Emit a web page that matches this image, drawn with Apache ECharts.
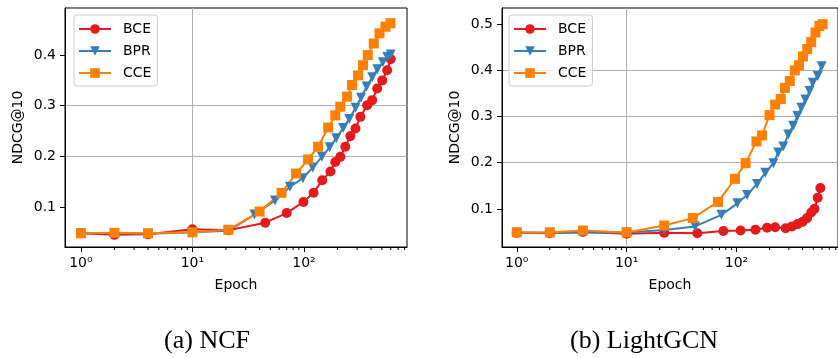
<!DOCTYPE html>
<html>
<head>
<meta charset="utf-8">
<script src="https://cdn.jsdelivr.net/npm/echarts@6/dist/echarts.min.js"></script>
<style>
  html, body { margin: 0; padding: 0; background: #fff; }
  #chart { width: 838px; height: 358px; }
</style>
</head>
<body>
<div id="chart"></div>
<script>
// (a) NCF - values read at the marker positions
var ncfBceEpoch = [1, 2, 4, 10, 21, 45, 70, 99, 122, 146, 173, 191, 212, 235, 261, 290, 321, 369, 409, 454, 504, 558, 600];
var ncfBce = [0.048, 0.045, 0.046, 0.056, 0.054, 0.069, 0.088, 0.110, 0.128, 0.153, 0.170, 0.189, 0.199, 0.219, 0.240, 0.255, 0.278, 0.301, 0.311, 0.334, 0.350, 0.370, 0.392];
var ncfBprEpoch = [1, 2, 4, 10, 21, 36, 55, 75, 98, 120, 145, 170, 195, 225, 255, 290, 325, 365, 410, 455, 510, 560, 600];
var ncfBpr = [0.048, 0.048, 0.047, 0.050, 0.053, 0.085, 0.113, 0.140, 0.157, 0.178, 0.199, 0.218, 0.236, 0.256, 0.274, 0.296, 0.316, 0.338, 0.356, 0.372, 0.386, 0.396, 0.401];
var ncfCceEpoch = [1, 2, 4, 10, 21, 40, 63, 85, 109, 134, 165, 191, 212, 244, 270, 306, 339, 374, 423, 476, 538, 597];
var ncfCce = [0.048, 0.049, 0.048, 0.050, 0.055, 0.091, 0.128, 0.166, 0.194, 0.219, 0.257, 0.281, 0.298, 0.318, 0.341, 0.360, 0.380, 0.400, 0.423, 0.443, 0.456, 0.463];

// (b) LightGCN
var lgcnBceEpoch = [1, 2, 4, 10, 22, 44, 76, 109, 149, 190, 225, 280, 320, 360, 400, 440, 480, 513, 549, 580];
var lgcnBce = [0.048, 0.047, 0.050, 0.046, 0.048, 0.047, 0.052, 0.053, 0.055, 0.059, 0.060, 0.058, 0.062, 0.067, 0.072, 0.080, 0.092, 0.100, 0.124, 0.145];
var lgcnBprEpoch = [1, 2, 4, 10, 22, 42, 73, 102, 125, 154, 183, 217, 240, 267, 296, 328, 359, 390, 424, 463, 495, 549, 596];
var lgcnBpr = [0.049, 0.048, 0.049, 0.049, 0.054, 0.062, 0.087, 0.112, 0.130, 0.154, 0.178, 0.199, 0.222, 0.235, 0.261, 0.280, 0.301, 0.319, 0.337, 0.355, 0.373, 0.388, 0.409];
var lgcnCceEpoch = [1, 2, 4, 10, 22, 40, 68, 97, 121, 152, 171, 200, 225, 253, 276, 306, 340, 371, 403, 441, 479, 524, 569, 609];
var lgcnCce = [0.049, 0.049, 0.053, 0.049, 0.064, 0.080, 0.115, 0.165, 0.199, 0.246, 0.259, 0.303, 0.326, 0.338, 0.362, 0.377, 0.400, 0.411, 0.430, 0.446, 0.461, 0.482, 0.496, 0.500];

var lossNames = ['BCE', 'BPR', 'CCE'];
var xMajorTicks = [1, 10, 100];
var xMinorTicks = [2, 3, 4, 5, 6, 7, 8, 9, 20, 30, 40, 50, 60, 70, 80, 90, 200, 300, 400, 500, 600, 700, 800];
var yTicksNcf = [0.1, 0.2, 0.3, 0.4];
var yTicksLgcn = [0.1, 0.2, 0.3, 0.4, 0.5];
var yRangeNcf = [0.021, 0.493];
var yRangeLgcn = [0.0174, 0.535];

var colors = { BCE: '#e41a1c', BPR: '#377eb8', CCE: '#ff7f00' };
var font = 'DejaVu Sans';
var sup = { '0': '\u2070', '1': '\u00b9', '2': '\u00b2', '3': '\u00b3' };

function pairs(xs, ys) {
    return xs.map(function (x, i) { return [x, ys[i]]; });
}

function logLabel(v) {
    var e = String(Math.round(Math.log10(v)));
    return '10' + e.split('').map(function (c) { return sup[c]; }).join('');
}

function mainX(grid, min, max) {
    return {
        type: 'log', logBase: 10, gridIndex: grid, min: min, max: max, position: 'bottom',
        axisLine: { show: true, onZero: false, lineStyle: { color: '#000', width: 1 } },
        axisTick: { show: true, length: 5, customValues: xMajorTicks, lineStyle: { color: '#000' } },
        axisLabel: { customValues: xMajorTicks, formatter: logLabel, color: '#000', fontSize: 14, fontFamily: font, margin: 9 },
        splitLine: { show: true, showMinLine: false, showMaxLine: false, lineStyle: { color: '#b0b0b0', width: 1 } },
        name: 'Epoch', nameLocation: 'middle', nameGap: 31,
        nameTextStyle: { color: '#000', fontSize: 14, fontFamily: font }
    };
}

function makeY(grid, range, ticks) {
    return {
        type: 'value', gridIndex: grid, min: range[0], max: range[1],
        axisLine: { show: true, onZero: false, lineStyle: { color: '#000', width: 1 } },
        axisTick: { show: true, length: 5, customValues: ticks, lineStyle: { color: '#000' } },
        axisLabel: {
            customValues: ticks, color: '#000', fontSize: 14, fontFamily: font, margin: 9,
            formatter: function (v) { return v.toFixed(1); }
        },
        splitLine: { show: true, showMinLine: false, showMaxLine: false, lineStyle: { color: '#b0b0b0', width: 1 } },
        name: 'NDCG@10', nameLocation: 'middle', nameGap: 40,
        nameTextStyle: { color: '#000', fontSize: 14, fontFamily: font }
    };
}

function makeSeries(name, data, xi, yi) {
    var symbols = { BCE: 'circle', BPR: 'triangle', CCE: 'rect' };
    return {
        name: name, type: 'line', xAxisIndex: xi, yAxisIndex: yi,
        data: data,
        symbol: symbols[name], symbolSize: 10, symbolRotate: name === 'BPR' ? 180 : 0,
        showSymbol: true,
        lineStyle: { color: colors[name], width: 2 },
        itemStyle: { color: colors[name] },
        emphasis: { disabled: true }
    };
}

// log minor ticks (2..9 per decade) under the x axis, placed by the axis scale
function minorTicks(xi, yi, yMin) {
    return {
        type: 'custom', xAxisIndex: xi, yAxisIndex: yi, silent: true, clip: false, z: 5,
        data: xMinorTicks.map(function (v) { return [v, yMin]; }),
        renderItem: function (params, api) {
            var p = api.coord([api.value(0), api.value(1)]);
            return {
                type: 'line',
                shape: { x1: p[0], y1: p[1], x2: p[0], y2: p[1] + 3 },
                style: { stroke: '#000', lineWidth: 1 }
            };
        }
    };
}

function makeLegend(left) {
    return {
        orient: 'vertical', left: left, top: 15,
        padding: [7, 6, 6, 4], itemWidth: 32, itemHeight: 12, itemGap: 8,
        borderColor: '#cccccc', borderWidth: 1, borderRadius: 3,
        backgroundColor: 'rgba(255,255,255,0.8)',
        textStyle: { color: '#000', fontSize: 14, fontFamily: font, padding: [0, 0, 0, 7] },
        data: lossNames
    };
}

var myChart = echarts.init(document.getElementById('chart'));

var option = {
    animation: false,
    backgroundColor: '#fff',
    grid: [
        { left: 65, right: 431, top: 8, bottom: 111, show: true, borderColor: '#000', borderWidth: 1 },
        { left: 502, right: -6, top: 8, bottom: 111, show: true, borderColor: '#000', borderWidth: 1 }
    ],
    xAxis: [
        mainX(0, 0.72, 840),
        mainX(1, 0.734, 840)
    ],
    yAxis: [
        makeY(0, yRangeNcf, yTicksNcf),
        makeY(1, yRangeLgcn, yTicksLgcn)
    ],
    legend: [makeLegend(74), makeLegend(509)],
    series: [
        makeSeries('BCE', pairs(ncfBceEpoch, ncfBce), 0, 0),
        makeSeries('BPR', pairs(ncfBprEpoch, ncfBpr), 0, 0),
        makeSeries('CCE', pairs(ncfCceEpoch, ncfCce), 0, 0),
        makeSeries('BCE', pairs(lgcnBceEpoch, lgcnBce), 1, 1),
        makeSeries('BPR', pairs(lgcnBprEpoch, lgcnBpr), 1, 1),
        makeSeries('CCE', pairs(lgcnCceEpoch, lgcnCce), 1, 1),
        minorTicks(0, 0, yRangeNcf[0]),
        minorTicks(1, 1, yRangeLgcn[0])
    ],
    graphic: [
        { type: 'text', x: 207, y: 341, style: { text: '(a) NCF', fill: '#000', font: '26px "Liberation Serif"', align: 'center', verticalAlign: 'middle' } },
        { type: 'text', x: 644, y: 341, style: { text: '(b) LightGCN', fill: '#000', font: '26px "Liberation Serif"', align: 'center', verticalAlign: 'middle' } }
    ]
};

myChart.setOption(option);
</script>
</body>
</html>
